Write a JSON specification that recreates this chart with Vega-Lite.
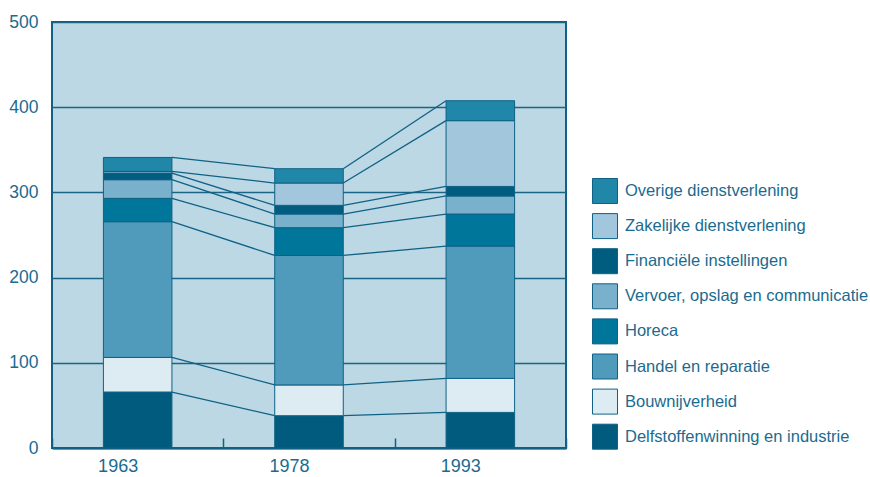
{
  "$schema": "https://vega.github.io/schema/vega-lite/v6.json",
  "autosize": {"type": "none"},
  "width": 514,
  "height": 426,
  "padding": {"left": 52, "top": 22, "right": 304, "bottom": 29},
  "background": "white",
  "config": {
    "font": "Liberation Sans",
    "view": {"fill": "#bcd8e5", "stroke": "#0f6185", "strokeWidth": 2}
  },
  "data": {
    "values": [
      {"year": "1963", "sector": "Delfstoffenwinning en industrie", "rank": 1, "value": 65.7},
      {"year": "1963", "sector": "Bouwnijverheid", "rank": 2, "value": 40.6},
      {"year": "1963", "sector": "Handel en reparatie", "rank": 3, "value": 159.3},
      {"year": "1963", "sector": "Horeca", "rank": 4, "value": 27.4},
      {"year": "1963", "sector": "Vervoer, opslag en communicatie", "rank": 5, "value": 21.9},
      {"year": "1963", "sector": "Financiële instellingen", "rank": 6, "value": 7.8},
      {"year": "1963", "sector": "Zakelijke dienstverlening", "rank": 7, "value": 1.9},
      {"year": "1963", "sector": "Overige dienstverlening", "rank": 8, "value": 16.4},
      {"year": "1978", "sector": "Delfstoffenwinning en industrie", "rank": 1, "value": 37.9},
      {"year": "1978", "sector": "Bouwnijverheid", "rank": 2, "value": 36.1},
      {"year": "1978", "sector": "Handel en reparatie", "rank": 3, "value": 152.0},
      {"year": "1978", "sector": "Horeca", "rank": 4, "value": 32.6},
      {"year": "1978", "sector": "Vervoer, opslag en communicatie", "rank": 5, "value": 16.0},
      {"year": "1978", "sector": "Financiële instellingen", "rank": 6, "value": 10.2},
      {"year": "1978", "sector": "Zakelijke dienstverlening", "rank": 7, "value": 26.2},
      {"year": "1978", "sector": "Overige dienstverlening", "rank": 8, "value": 16.8},
      {"year": "1993", "sector": "Delfstoffenwinning en industrie", "rank": 1, "value": 41.8},
      {"year": "1993", "sector": "Bouwnijverheid", "rank": 2, "value": 39.9},
      {"year": "1993", "sector": "Handel en reparatie", "rank": 3, "value": 155.3},
      {"year": "1993", "sector": "Horeca", "rank": 4, "value": 37.6},
      {"year": "1993", "sector": "Vervoer, opslag en communicatie", "rank": 5, "value": 21.2},
      {"year": "1993", "sector": "Financiële instellingen", "rank": 6, "value": 11.2},
      {"year": "1993", "sector": "Zakelijke dienstverlening", "rank": 7, "value": 77.2},
      {"year": "1993", "sector": "Overige dienstverlening", "rank": 8, "value": 23.4}
    ]
  },
  "transform": [
    {"stack": "value", "groupby": ["year"], "sort": [{"field": "rank", "order": "ascending"}], "as": ["y0", "y1"]}
  ],
  "encoding": {
    "y": {
      "field": "y1",
      "type": "quantitative",
      "scale": {"domain": [0, 500], "nice": false},
      "axis": {
        "title": null,
        "values": [0, 100, 200, 300, 400, 500],
        "domain": false,
        "ticks": false,
        "labelFontSize": 17.5,
        "labelColor": "#1b6b8f",
        "labelPadding": 14,
        "grid": true,
        "gridColor": "#1a6585",
        "gridWidth": 1.5
      }
    }
  },
  "layer": [
    {
      "transform": [
        {"window": [{"op": "lead", "field": "y1", "as": "ny"}, {"op": "lead", "field": "year", "as": "nyear"}], "groupby": ["sector"], "sort": [{"field": "year", "order": "ascending"}]},
        {"filter": "datum.nyear != null"}
      ],
      "mark": {"type": "rule", "stroke": "#0f6185", "strokeWidth": 1.3},
      "encoding": {
        "x": {"field": "year", "type": "ordinal", "bandPosition": 0.7},
        "x2": {"field": "nyear", "bandPosition": 0.3},
        "y2": {"field": "ny"}
      }
    },
    {
      "mark": {"type": "bar", "width": {"band": 0.4}, "stroke": "#0f6185", "strokeWidth": 1, "opacity": 1},
      "encoding": {
        "x": {
          "field": "year",
          "type": "ordinal",
          "scale": {"type": "band", "paddingInner": 0, "paddingOuter": 0},
          "axis": {
            "title": null,
            "labelAngle": 0,
            "labelFontSize": 18,
            "labelColor": "#1b6b8f",
            "domain": true,
            "domainColor": "#0f6185",
            "domainWidth": 2,
            "ticks": true,
            "tickBand": "extent",
            "tickSize": -10,
            "tickColor": "#0f6185",
            "tickWidth": 1.5,
            "labelPadding": 28
          }
        },
        "y": {"field": "y1", "type": "quantitative"},
        "y2": {"field": "y0"},
        "color": {
          "field": "sector",
          "type": "nominal",
          "scale": {
            "domain": ["Overige dienstverlening", "Zakelijke dienstverlening", "Financiële instellingen", "Vervoer, opslag en communicatie", "Horeca", "Handel en reparatie", "Bouwnijverheid", "Delfstoffenwinning en industrie"],
            "range": ["#2187a9", "#a2c7dc", "#005d80", "#79b0cb", "#00769a", "#509bbb", "#ddecf3", "#005b7f"]
          },
          "legend": {
            "title": null,
            "orient": "none",
            "legendX": 540,
            "legendY": 156,
            "symbolType": "square",
            "symbolSize": 625,
            "symbolStrokeColor": "#0f6185",
            "symbolStrokeWidth": 1,
            "symbolOpacity": 1,
            "labelFontSize": 16.5,
            "labelColor": "#1b6b8f",
            "labelOffset": 7,
            "rowPadding": 5.1,
            "labelLimit": 300
          }
        },
        "order": {"field": "rank", "type": "quantitative"}
      }
    }
  ]
}
